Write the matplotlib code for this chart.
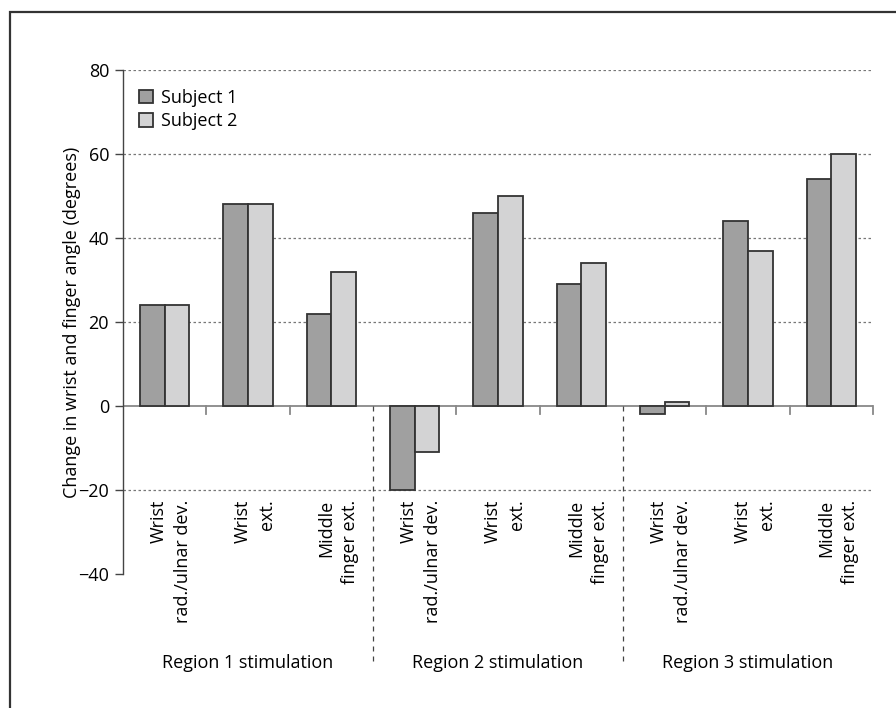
import numpy as np
import matplotlib
matplotlib.use("Agg")
import matplotlib.pyplot as plt
from matplotlib.patches import Rectangle, Patch

# data
groups = ["Region 1 stimulation", "Region 2 stimulation", "Region 3 stimulation"]
movements = ["Wrist\nrad./ulnar dev.", "Wrist\next.", "Middle\nfinger ext."]
subject1 = [24, 48, 22, -20, 46, 29, -2, 44, 54]
subject2 = [24, 48, 32, -11, 50, 34, 1, 37, 60]
yticks = [-40, -20, 0, 20, 40, 60, 80]

plt.rcParams['font.family'] = ['Open Sans', 'DejaVu Sans']
fs = 13

fig = plt.figure(figsize=(8.96, 7.08), dpi=100)
# outer frame (right and bottom run off the picture)
fig.patches.append(Rectangle((10 / 896, -0.05), 1.2, 1 - 12 / 708 + 0.05,
                             transform=fig.transFigure, fill=False,
                             edgecolor='#333333', linewidth=1.6))

ax = fig.add_axes([123 / 896, 1 - 574 / 708, 750 / 896, 504 / 708])

n = len(subject1)
x = np.arange(n)
w = 0.295
ax.bar(x - w / 2, subject1, w, color='#a0a0a0', edgecolor='#333333', linewidth=1.3, zorder=3)
ax.bar(x + w / 2, subject2, w, color='#d3d3d4', edgecolor='#333333', linewidth=1.3, zorder=3)

ax.set_xlim(-0.5, n - 0.5)
ax.set_ylim(-40, 80)

# gridlines
for v in [-20, 20, 40, 60, 80]:
    ax.axhline(v, color='#777777', linestyle=(0, (2, 2)), linewidth=0.9, zorder=1)
ax.axhline(0, color='#888888', linewidth=1.3, zorder=2)

for s in ['top', 'right', 'bottom']:
    ax.spines[s].set_visible(False)
ax.spines['left'].set_color('#444444')
ax.spines['left'].set_linewidth(1.0)

ax.set_yticks(yticks)
ax.set_yticklabels([str(v).replace('-', '\u2212') for v in yticks], fontsize=fs)
ax.tick_params(axis='y', length=6, width=1, color='#444444', pad=4)
ax.set_xticks([])
ax.set_ylabel("Change in wrist and finger angle (degrees)", fontsize=fs)
ax.yaxis.set_label_coords(-0.056, 0.5)

# small ticks under the zero line, dashed separators between groups
for b in range(1, n + 1):
    xb = b - 0.5
    if b % 3 == 0 and b < n:
        ax.plot([xb, xb], [0, -61.5], color='#444444', linestyle=(0, (4, 4)),
                linewidth=0.9, clip_on=False, zorder=2)
    else:
        ax.plot([xb, xb], [0, -2], color='#888888', linewidth=1.3, clip_on=False, zorder=2)

# category labels
for i in range(n):
    ax.text(i + 0.08, -22.3, movements[i % 3], rotation=90, ha='center', va='top',
            multialignment='right', fontsize=fs, linespacing=1.45)

for g, name in enumerate(groups):
    ax.text(3 * g + 1, -61.2, name, ha='center', va='center', fontsize=fs)

handles = [Patch(facecolor='#a0a0a0', edgecolor='#333333', linewidth=1.3),
           Patch(facecolor='#d3d3d4', edgecolor='#333333', linewidth=1.3)]
ax.legend(handles, ["Subject 1", "Subject 2"], loc='upper left', frameon=False,
          fontsize=fs, handlelength=0.75, handleheight=0.75, handletextpad=0.45,
          labelspacing=0.3, borderaxespad=0.5, bbox_to_anchor=(0.0, 0.995))

fig.savefig("out.png", dpi=100)
